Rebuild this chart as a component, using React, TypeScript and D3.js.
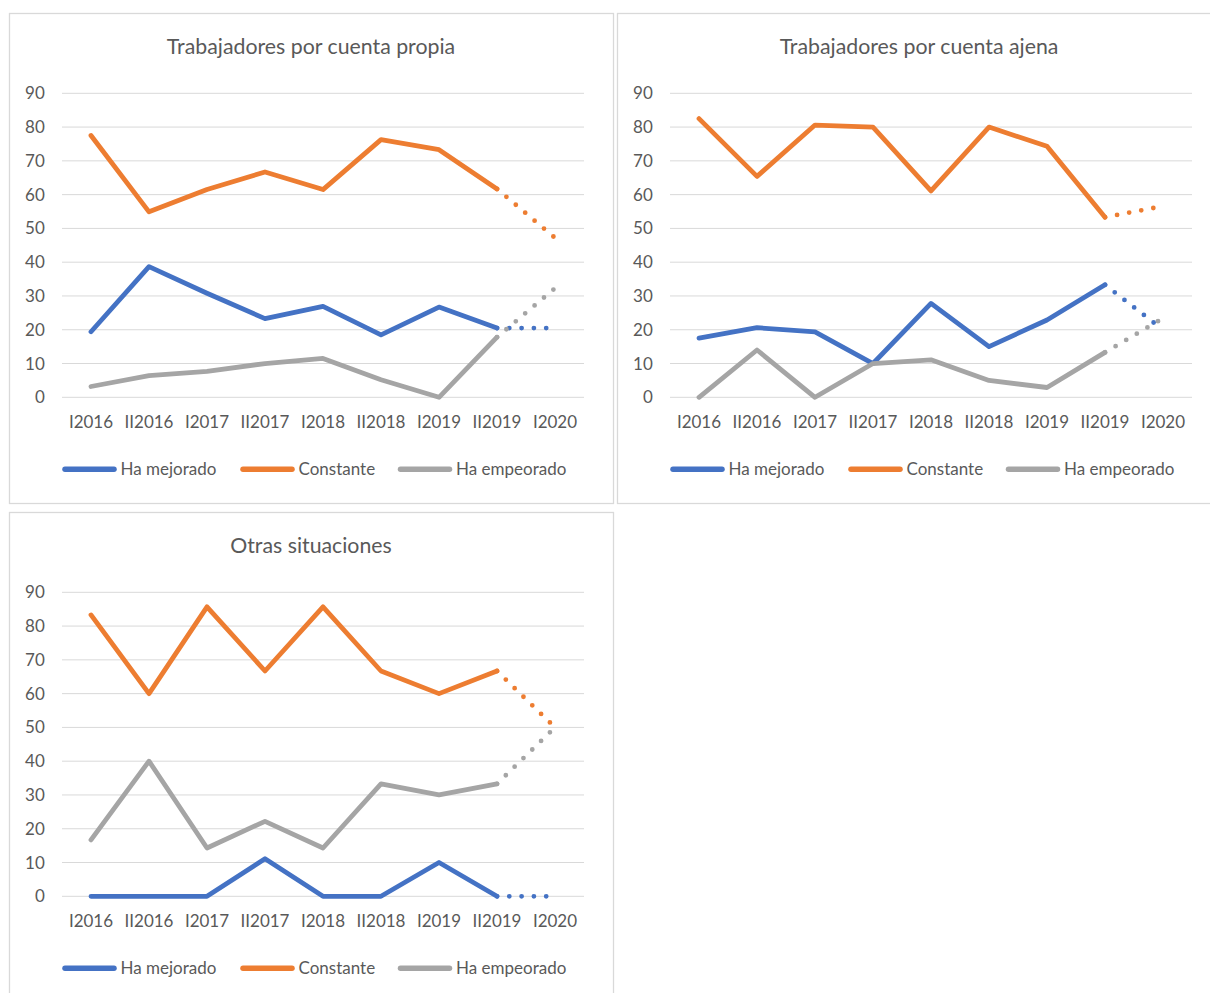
import React from 'react';
import * as d3 from 'd3';

// category labels for the x axis
const periods = ['I2016', 'II2016', 'I2017', 'II2017', 'I2018', 'II2018', 'I2019', 'II2019', 'I2020'];
const yTicks = [0, 10, 20, 30, 40, 50, 60, 70, 80, 90];

// Trabajadores por cuenta propia
const propiaMejorado = [19.4, 38.7, 30.8, 23.3, 26.9, 18.5, 26.7, 20.5, 20.5];
const propiaConstante = [77.5, 54.9, 61.5, 66.7, 61.5, 76.3, 73.3, 61.7, 47.2];
const propiaEmpeorado = [3.2, 6.4, 7.7, 10.0, 11.5, 5.2, 0, 17.8, 32.3];

// Trabajadores por cuenta ajena
const ajenaMejorado = [17.5, 20.6, 19.4, 10.0, 27.8, 15.0, 22.9, 33.3, 20.0];
const ajenaConstante = [82.5, 65.4, 80.6, 80.0, 61.1, 80.0, 74.3, 53.3, 56.6];
const ajenaEmpeorado = [0, 14.0, 0, 10.0, 11.1, 5.0, 2.9, 13.3, 23.4];

// Otras situaciones
const otrasMejorado = [0, 0, 0, 11.1, 0, 0, 10, 0, 0];
const otrasConstante = [83.3, 60, 85.7, 66.7, 85.7, 66.7, 60, 66.7, 50];
const otrasEmpeorado = [16.7, 40, 14.3, 22.2, 14.3, 33.3, 30, 33.3, 50];

const seriesNames = ['Ha mejorado', 'Constante', 'Ha empeorado'];
const seriesColors = ['#4472C4', '#ED7D31', '#A5A5A5'];

const FONT = 'Lato, "Open Sans", sans-serif';
const TEXT = '#595959';
const GRID = '#D9D9D9';

const W = 604;
const H = 490;
const plotLeft = 53;
const plotRight = 575;
const plotTop = 80.3;
const plotBottom = 384.3;

// legend layout: [line start, line end, text x]
const legendPos = [
  [56, 105, 111.5],
  [234, 283, 289.5],
  [391.5, 440.5, 447],
];

interface PanelProps {
  x: number;
  y: number;
  title: string;
  series: number[][];
}

const Panel: React.FC<PanelProps> = ({ x, y, title, series }) => {
  const xScale = d3.scaleBand().domain(periods).range([plotLeft, plotRight]);
  const yScale = d3.scaleLinear().domain([0, 90]).range([plotBottom, plotTop]);
  const cx = (p: string) => (xScale(p) ?? 0) + xScale.bandwidth() / 2;

  const line = d3
    .line<number>()
    .x((_, i) => cx(periods[i]))
    .y((d) => yScale(d));

  const lastSolid = periods.length - 2;

  return (
    <g transform={`translate(${x},${y})`}>
      <rect x={0.5} y={0.5} width={W} height={H} fill="#fff" stroke={GRID} strokeWidth={1.3} />
      <text x={W / 2} y={41.3} textAnchor="middle" fontSize={21.3} fill={TEXT} fontFamily={FONT}>
        {title}
      </text>
      {yTicks.map((t) => (
        <g key={t}>
          <line x1={plotLeft} x2={plotRight} y1={yScale(t)} y2={yScale(t)} stroke={GRID} strokeWidth={1} />
          <text x={35.8} y={yScale(t) + 6} textAnchor="end" fontSize={17} fill={TEXT} fontFamily={FONT}>
            {t}
          </text>
        </g>
      ))}
      {periods.map((p) => (
        <text key={p} x={cx(p)} y={415.3} textAnchor="middle" fontSize={17} fill={TEXT} fontFamily={FONT}>
          {p}
        </text>
      ))}
      {series.map((vals, si) => {
        const solid = vals.slice(0, lastSolid + 1);
        const dotted = vals.map((v, i) => (i >= lastSolid ? v : NaN));
        const dotLine = d3
          .line<number>()
          .defined((d) => !isNaN(d))
          .x((_, i) => cx(periods[i]))
          .y((d) => yScale(d));
        return (
          <g key={si}>
            <path
              d={line(solid) ?? ''}
              fill="none"
              stroke={seriesColors[si]}
              strokeWidth={4.8}
              strokeLinejoin="round"
              strokeLinecap="round"
            />
            <path
              d={dotLine(dotted) ?? ''}
              fill="none"
              stroke={seriesColors[si]}
              strokeWidth={4.8}
              strokeLinecap="round"
              strokeDasharray="0 12.3"
            />
          </g>
        );
      })}
      {seriesNames.map((name, si) => (
        <g key={name}>
          <line
            x1={legendPos[si][0]}
            x2={legendPos[si][1]}
            y1={456.3}
            y2={456.3}
            stroke={seriesColors[si]}
            strokeWidth={5.5}
            strokeLinecap="round"
          />
          <text x={legendPos[si][2]} y={462} fontSize={17} fill={TEXT} fontFamily={FONT}>
            {name}
          </text>
        </g>
      ))}
    </g>
  );
};

const App: React.FC = () => {
  return (
    <div style={{ position: 'absolute', left: 0, top: 0 }}>
      <svg width={1210} height={993} style={{ display: 'block', background: '#fff' }}>
        <Panel
          x={9}
          y={13}
          title="Trabajadores por cuenta propia"
          series={[propiaMejorado, propiaConstante, propiaEmpeorado]}
        />
        <Panel
          x={617}
          y={13}
          title="Trabajadores por cuenta ajena"
          series={[ajenaMejorado, ajenaConstante, ajenaEmpeorado]}
        />
        <Panel
          x={9}
          y={512}
          title="Otras situaciones"
          series={[otrasMejorado, otrasConstante, otrasEmpeorado]}
        />
      </svg>
    </div>
  );
};

export default App;
